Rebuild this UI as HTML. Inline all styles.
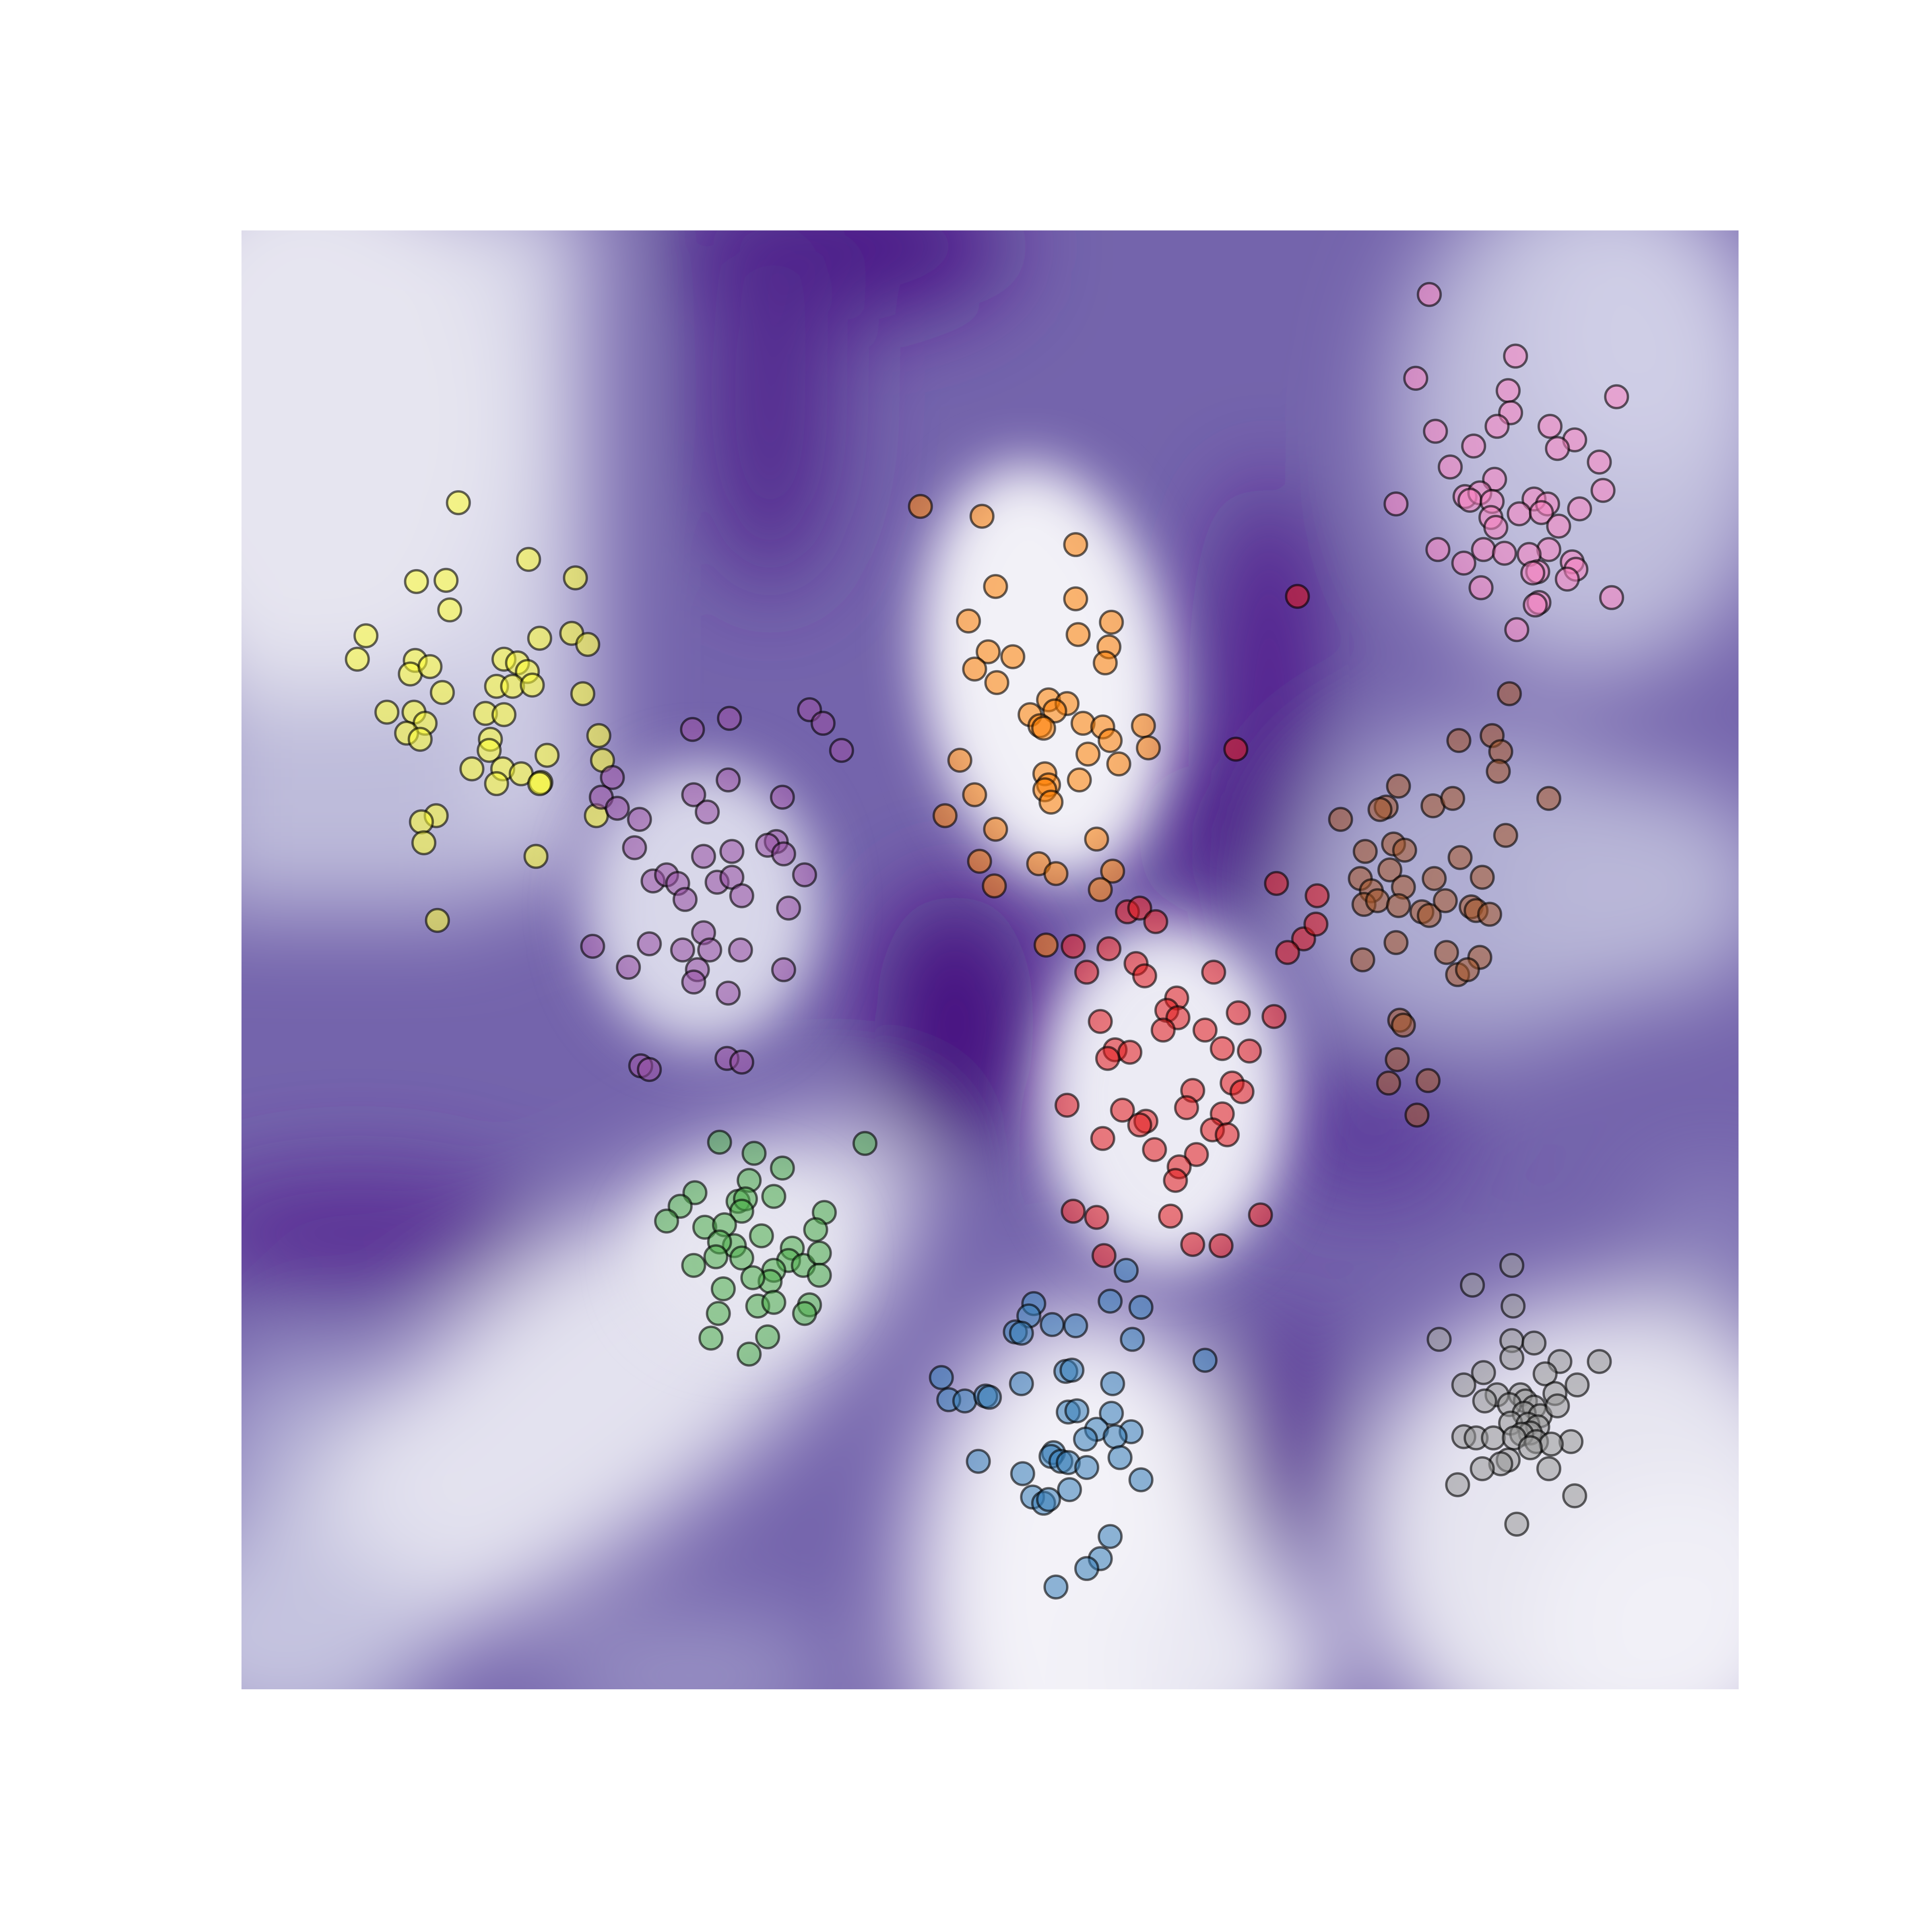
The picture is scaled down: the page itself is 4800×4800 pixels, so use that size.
<!DOCTYPE html>
<html><head><meta charset="utf-8"><style>
html,body{margin:0;padding:0;background:#fff;}
svg{display:block;}
</style></head><body>
<svg id="chart" width="4800" height="4800" viewBox="0 0 1568 1568" xmlns="http://www.w3.org/2000/svg">
<defs>
<clipPath id="plotclip"><rect x="196" y="187" width="1215" height="1184"/></clipPath>
<filter id="blur" x="-50%" y="-50%" width="200%" height="200%"><feGaussianBlur stdDeviation="38"/></filter>
<filter id="blur2" x="-50%" y="-50%" width="200%" height="200%"><feGaussianBlur stdDeviation="22"/></filter>
</defs>
<rect width="1568" height="1568" fill="#ffffff"/>
<g clip-path="url(#plotclip)">
<rect x="196" y="187" width="1215" height="1184" fill="#7464ac"/>
<g filter="url(#blur)">
<rect x="150" y="150" width="330" height="560" fill="#d4d3e7"/>
<ellipse cx="250" cy="340" rx="170" ry="230" fill="#e6e5f0"/>
<rect x="150" y="560" width="250" height="180" fill="#bdbbda"/>
<ellipse cx="1290" cy="340" rx="160" ry="210" fill="#bfbddc"/>
<ellipse cx="1330" cy="270" rx="100" ry="120" fill="#cfcee6"/>
<ellipse cx="1200" cy="720" rx="150" ry="130" fill="#aeacd1"/>
<ellipse cx="1330" cy="720" rx="110" ry="90" fill="#b9b7d8"/>
<ellipse cx="1390" cy="1010" rx="60" ry="60" fill="#8a80bb"/>
<ellipse cx="1300" cy="1250" rx="200" ry="200" fill="#e6e5f0"/>
<ellipse cx="1360" cy="1320" rx="120" ry="120" fill="#f1f0f7"/>
<ellipse cx="250" cy="1200" rx="90" ry="110" fill="#a9a4cf"/>
<ellipse cx="560" cy="1360" rx="120" ry="50" fill="#9a93c5"/>
<ellipse cx="480" cy="1130" rx="320" ry="115" fill="#e3e2ef" transform="rotate(-38 480 1130)"/>
<ellipse cx="230" cy="1330" rx="120" ry="90" fill="#c4c3df"/>
<ellipse cx="880" cy="1290" rx="140" ry="230" fill="#f3f2f8"/>
<ellipse cx="1000" cy="1350" rx="80" ry="80" fill="#e8e7f2"/>
<ellipse cx="680" cy="200" rx="140" ry="60" fill="#4a1486"/>
<ellipse cx="625" cy="320" rx="55" ry="160" fill="#522b8f"/>
<ellipse cx="1030" cy="560" rx="40" ry="170" fill="#4b1688"/>
<ellipse cx="1005" cy="680" rx="60" ry="60" fill="#4a1486"/>
<ellipse cx="775" cy="830" rx="65" ry="110" fill="#44097f"/>
<ellipse cx="290" cy="1000" rx="150" ry="50" fill="#5a2f94"/>
<ellipse cx="1110" cy="920" rx="80" ry="60" fill="#5d3c9c"/>
<ellipse cx="1040" cy="1160" rx="50" ry="100" fill="#5b3897"/>
</g>
<g filter="url(#blur2)">
<ellipse cx="848" cy="545" rx="100" ry="170" fill="#f2f1f7" transform="rotate(-8 848 545)"/>
<ellipse cx="570" cy="735" rx="95" ry="115" fill="#d8d7e9"/>
<ellipse cx="945" cy="890" rx="100" ry="140" fill="#ecebf4"/>
<ellipse cx="600" cy="1020" rx="80" ry="70" fill="#e6e5f0"/>
</g>
</g>
<g id="points"></g>
</svg>
<script>
// data coordinates (arbitrary units matching figure layout)
const yellowX=[372,429,338,362,467,365,297,290,337,333,349,409,438,464,477,420,428,403,416,432,359,473,314,336,394,409,345,330,341,398,397,486,444,383,408,423,439,403,489,484,354,342,344,435,355,438];
const yellowY=[408,454,472,471,469,495,516,535,536,547,541,535,518,514,523,538,545,557,557,556,562,563,578,578,579,580,587,595,600,600,609,597,613,624,624,628,635,636,617,662,662,667,684,695,747,636];
const purpleX=[562,592,657,668,683,497,488,563,591,501,574,635,519,515,630,623,571,594,636,530,582,541,550,556,594,602,653,640,571,481,527,554,576,601,510,566,636,563,591,520,527,590,602];
const purpleY=[592,583,576,587,609,631,647,645,633,656,659,647,665,688,683,686,695,691,693,715,716,710,717,730,712,727,710,737,757,768,766,771,771,771,785,787,787,797,806,865,868,859,862];
const orangeX=[747,797,873,808,873,786,902,875,802,822,900,791,897,809,851,866,836,856,844,847,879,895,928,901,932,883,779,848,908,876,851,848,791,853,767,808,890,795,843,857,903,807,893,849];
const orangeY=[411,419,442,476,486,504,505,515,529,533,525,543,538,554,568,571,580,577,589,591,587,590,589,601,607,612,617,628,620,633,637,641,645,651,662,673,681,699,701,709,707,719,722,767];
const redX=[1053,1003,1036,1058,915,925,938,1069,1068,1045,871,900,922,882,929,985,955,947,956,978,893,944,1005,1034,992,1014,905,917,899,1000,1008,968,866,911,963,992,930,925,984,996,895,937,971,957,954,871,890,950,1023,968,991,896];
const redY=[484,608,717,762,740,737,748,727,750,773,768,770,782,789,792,789,810,820,826,836,829,836,822,825,851,853,852,854,859,879,886,885,897,901,899,904,910,913,917,921,924,933,937,947,958,983,988,987,986,1010,1011,1019];
const brownX=[1225,1211,1184,1218,1216,1135,1125,1120,1163,1179,1257,1088,1131,1222,1108,1140,1185,1128,1104,1113,1139,1164,1203,1107,1118,1135,1154,1160,1194,1198,1209,1173,1133,1106,1174,1201,1183,1191,1136,1139,1134,1127,1159,1150];
const brownY=[563,597,601,610,626,638,655,657,654,648,648,665,685,678,691,690,696,706,713,723,720,713,712,734,731,735,740,743,736,739,742,731,765,779,773,777,791,787,828,832,860,879,877,905];
const pinkX=[1160,1230,1149,1224,1312,1226,1215,1165,1258,1196,1278,1264,1177,1298,1213,1189,1201,1193,1211,1133,1245,1256,1301,1210,1233,1251,1282,1214,1265,1167,1204,1221,1257,1241,1188,1248,1276,1279,1244,1272,1202,1249,1308,1246,1231];
const pinkY=[239,289,307,317,322,335,346,350,346,362,357,364,379,375,389,403,400,406,407,409,405,409,398,420,417,416,413,428,427,446,446,449,446,450,457,464,456,462,465,470,477,489,485,491,511];
const greenX=[584,702,612,635,608,564,599,605,628,552,602,669,541,572,588,618,662,596,584,643,640,652,665,563,581,602,628,625,665,657,611,587,615,628,583,653,577,623,608];
const greenY=[927,928,936,948,958,968,975,973,971,979,983,984,991,996,994,1003,998,1011,1008,1013,1023,1027,1017,1027,1020,1021,1031,1040,1035,1059,1037,1046,1060,1057,1066,1066,1086,1085,1099];
const blueX=[914,901,926,839,835,854,873,824,829,919,978,764,865,870,829,903,770,783,800,803,867,874,902,890,881,918,905,855,853,861,867,909,794,882,830,926,868,838,847,851,901,893,882,857];
const blueY=[1031,1056,1061,1058,1068,1075,1076,1081,1082,1087,1104,1118,1113,1112,1123,1123,1136,1137,1133,1134,1146,1145,1147,1160,1168,1162,1166,1179,1182,1186,1187,1183,1186,1191,1196,1201,1209,1215,1220,1217,1247,1265,1273,1288];
const grayX=[1227,1195,1228,1168,1227,1245,1227,1266,1298,1204,1254,1280,1215,1188,1234,1238,1262,1205,1225,1245,1237,1250,1264,1226,1240,1248,1242,1235,1188,1198,1212,1229,1247,1275,1259,1242,1224,1218,1203,1257,1183,1278,1231];
const grayY=[1027,1043,1060,1087,1088,1090,1102,1105,1105,1114,1115,1124,1132,1124,1132,1137,1131,1137,1140,1142,1147,1149,1141,1155,1156,1158,1163,1164,1166,1167,1167,1167,1170,1170,1172,1175,1185,1188,1192,1192,1205,1214,1237];
const seriesNames=["yellow","purple","orange","red","brown","pink","green","blue","gray"];
const seriesColors=["#ffff33","#984ea3","#ff7f00","#e41a1c","#a65628","#f781bf","#4daf4a","#377eb8","#999999"];

const xDomain=[196,1411], yDomain=[187,1371];
const plotLeft=196, plotRight=1411, plotTop=187, plotBottom=1371;
function xScale(v){return plotLeft+(v-xDomain[0])/(xDomain[1]-xDomain[0])*(plotRight-plotLeft);}
function yScale(v){return plotTop+(v-yDomain[0])/(yDomain[1]-yDomain[0])*(plotBottom-plotTop);}

const allX=[yellowX,purpleX,orangeX,redX,brownX,pinkX,greenX,blueX,grayX];
const allY=[yellowY,purpleY,orangeY,redY,brownY,pinkY,greenY,blueY,grayY];
const g=document.getElementById('points');
const NS="http://www.w3.org/2000/svg";
for(let s=0;s<allX.length;s++){
  const grp=document.createElementNS(NS,'g');
  
  
  g.appendChild(grp);
  for(let i=0;i<allX[s].length;i++){
    const c=document.createElementNS(NS,'circle');
    c.setAttribute('cx',xScale(allX[s][i]));
    c.setAttribute('cy',yScale(allY[s][i]));
    c.setAttribute('r',9.2);
    c.setAttribute('fill',seriesColors[s]);
    c.setAttribute('fill-opacity','0.55');
    c.setAttribute('stroke','#000');
    c.setAttribute('stroke-opacity','0.6');
    c.setAttribute('stroke-width','1.9');
    
    
    grp.appendChild(c);
  }
}
</script>
</body></html>
